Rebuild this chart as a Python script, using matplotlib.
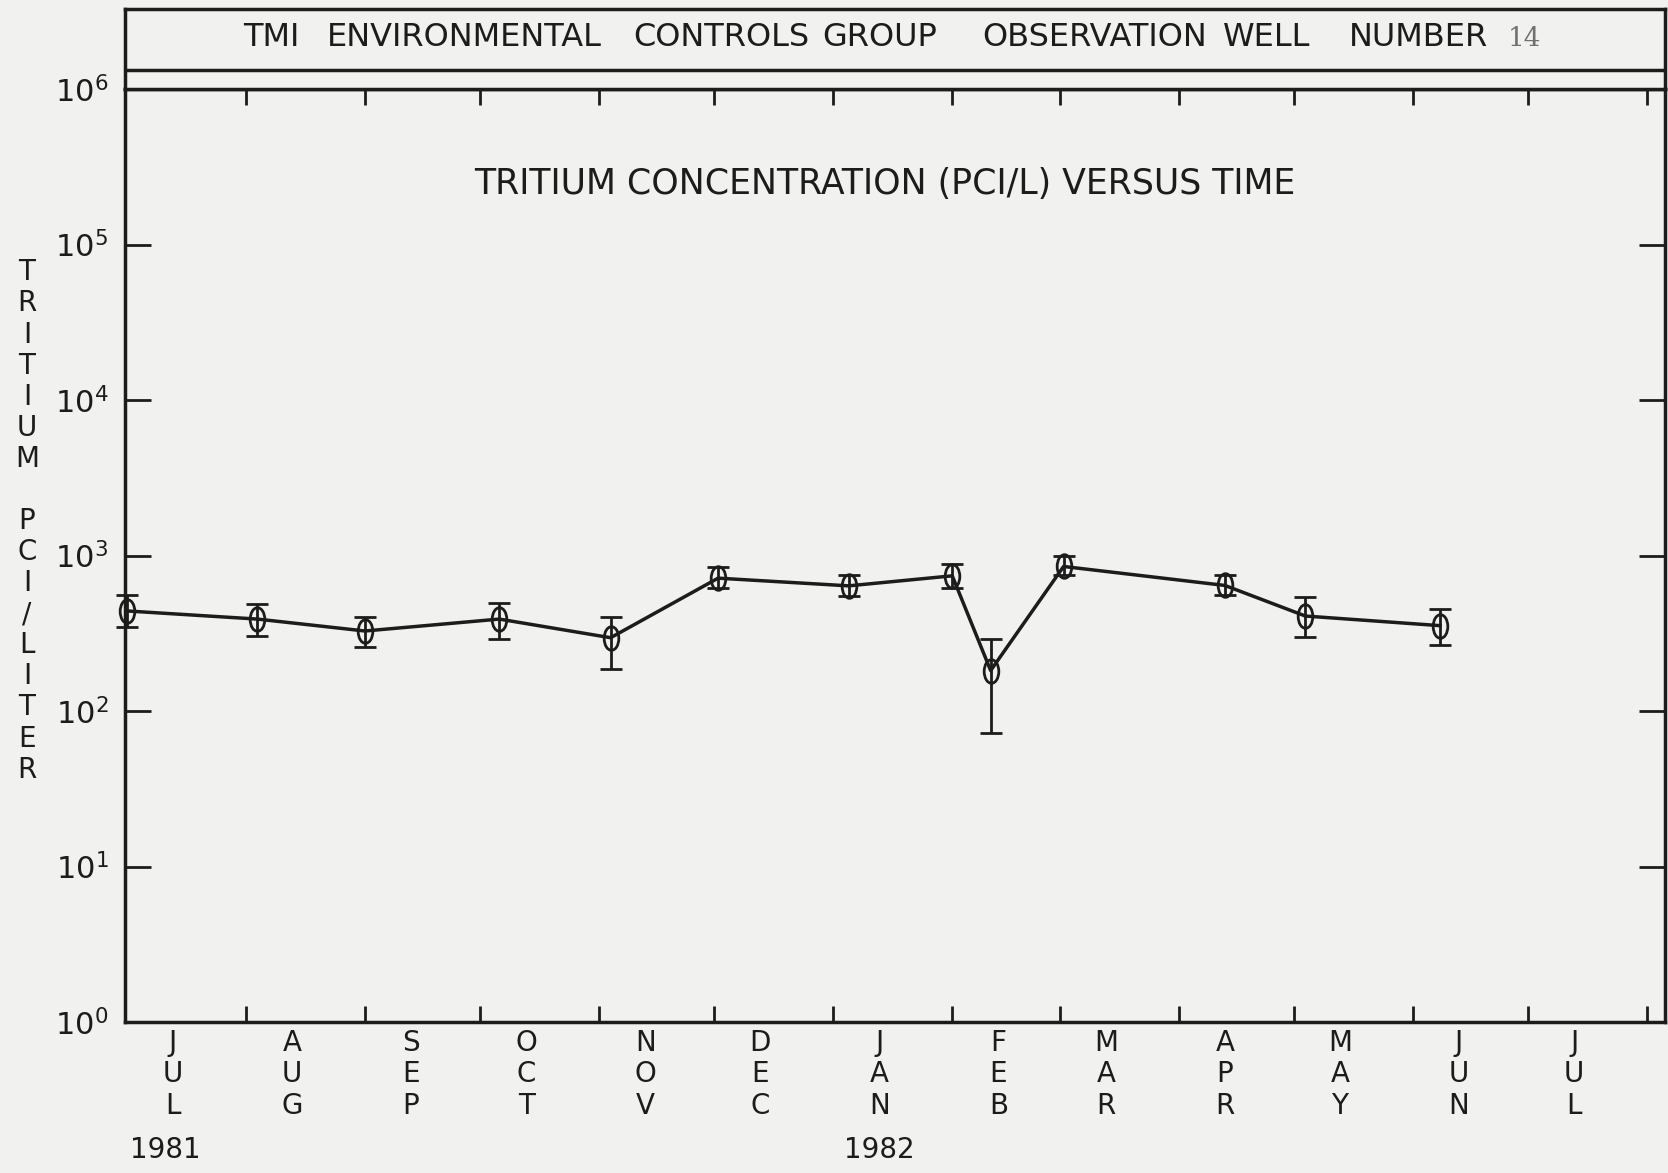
import matplotlib
matplotlib.use('Agg')
import matplotlib.pyplot as plt
import pandas as pd
from matplotlib.path import Path
from matplotlib.transforms import Affine2D, blended_transform_factory

# sample dates and tritium values (pCi/L)
sample_dates = ['1981-07-01', '1981-08-04', '1981-09-01', '1981-10-06', '1981-11-04',
                '1981-12-02', '1982-01-05', '1982-02-01', '1982-02-11', '1982-03-02',
                '1982-04-13', '1982-05-04', '1982-06-08']
tritium = [440, 390, 327, 390, 296, 715, 638, 740, 182, 850, 642, 408, 354]
err_top = [555, 490, 402, 495, 405, 845, 750, 885, 292, 1000, 752, 540, 450]
err_bottom = [345, 303, 258, 290, 186, 620, 545, 620, 72, 745, 560, 300, 266]

month_names = ['JUL', 'AUG', 'SEP', 'OCT', 'NOV', 'DEC', 'JAN', 'FEB', 'MAR',
               'APR', 'MAY', 'JUN', 'JUL']
year_labels = ['1981', '1982']
year_label_dates = ['1981-07-11', '1982-01-13']
header_words = ['TMI', 'ENVIRONMENTAL', 'CONTROLS', 'GROUP', 'OBSERVATION', 'WELL', 'NUMBER']
header_word_x = [243, 327, 633, 822, 982, 1223, 1349]   # pixel left edges in the header
well_number = '14'
subtitle = 'TRITIUM CONCENTRATION (PCI/L) VERSUS TIME'
ylabel = 'TRITIUM PCI/LITER'

ink = '#1c1c1c'
paper = '#f1f1ef'

W, H = 1668, 1173
fig = plt.figure(figsize=(W / 100, H / 100), dpi=100, facecolor=paper)

x_left, x_right = 125, 1665
y_top, y_bottom = 89, 1022
ax = fig.add_axes([x_left / W, 1 - y_bottom / H, (x_right - x_left) / W, (y_bottom - y_top) / H])
ax.set_facecolor(paper)

dates = pd.to_datetime(sample_dates)
lower = [v - b for v, b in zip(tritium, err_bottom)]
upper = [t - v for v, t in zip(tritium, err_top)]

# tall narrow open circle, like the plotter symbol
ellipse = Affine2D().scale(0.62, 1.0).transform_path(Path.unit_circle())

ax.errorbar(dates, tritium, yerr=[lower, upper], color=ink, lw=2.5,
            marker=ellipse, markersize=17, mfc='none', mec=ink, mew=2.0,
            elinewidth=2.0, capsize=8, capthick=2.4, clip_on=False, zorder=3)

ax.set_yscale('log')
ax.set_ylim(1, 1e6)
ax.set_xlim(pd.Timestamp('1981-06-30 12:00'), pd.Timestamp('1982-08-05 16:00'))

for s in ax.spines.values():
    s.set_color(ink)
    s.set_linewidth(2.5)

ax.set_yticks([1, 10, 100, 1e3, 1e4, 1e5])
ax.set_yticklabels(['$10^{%d}$' % k for k in range(6)])
ax.minorticks_off()
ax.tick_params(axis='y', which='major', direction='in', left=True, right=True,
               length=19, width=2.0, color=ink, labelsize=22, labelcolor=ink, pad=12)
ax.annotate('$10^{6}$', xy=(0, 1e6), xycoords=blended_transform_factory(ax.transAxes, ax.transData),
            xytext=(-12, -2), textcoords='offset points', ha='right', va='center',
            fontsize=22, color=ink, annotation_clip=False)

month_starts = pd.date_range('1981-07-01', '1982-08-01', freq='MS')
ax.set_xticks(month_starts[1:])
ax.set_xticklabels([])
ax.tick_params(axis='x', which='major', direction='in', top=True, bottom=True,
               length=11.5, width=2.0, color=ink)

label_pos = month_starts[:-1] + pd.Timedelta(days=12)
ax.set_xticks(label_pos, minor=True)
ax.set_xticklabels(['\n'.join(m) for m in month_names], minor=True)
ax.tick_params(axis='x', which='minor', length=0, pad=5, labelsize=20, labelcolor=ink)
for lbl in ax.get_xticklabels(minor=True):
    lbl.set_linespacing(1.15)

xtrans = blended_transform_factory(ax.transData, ax.transAxes)
for d, yr in zip(year_label_dates, year_labels):
    ax.text(pd.Timestamp(d), -(1150 - y_bottom) / (y_bottom - y_top), yr,
            transform=xtrans, ha='center', va='center', fontsize=20, color=ink)

ax.text((885 - x_left) / (x_right - x_left), (y_bottom - 184) / (y_bottom - y_top), subtitle,
        transform=ax.transAxes, ha='center', va='center', fontsize=25, color=ink)

fig.text(27 / W, 1 - 521 / H, '\n'.join(ylabel), ha='center', va='center',
         fontsize=20, color=ink, linespacing=1.14)

# header box above the plot
hdr_top = 9
hdr = fig.add_axes([x_left / W, 1 - y_top / H, (x_right - x_left) / W, (y_top - hdr_top) / H])
hdr.set_facecolor(paper)
hdr.set_xticks([])
hdr.set_yticks([])
for s in hdr.spines.values():
    s.set_color(ink)
    s.set_linewidth(2.5)
hdr.axhline((y_top - 70) / (y_top - hdr_top), color=ink, lw=2.5)
text_y = (y_top - 38) / (y_top - hdr_top)
for word, px in zip(header_words, header_word_x):
    hdr.text((px - x_left) / (x_right - x_left), text_y, word, ha='left', va='center',
             fontsize=23, color=ink)
hdr.text((1508 - x_left) / (x_right - x_left), text_y, well_number, ha='left', va='center',
         fontsize=19, color='#707070', family='DejaVu Serif')

fig.savefig('out.png', dpi=100, facecolor=paper)
